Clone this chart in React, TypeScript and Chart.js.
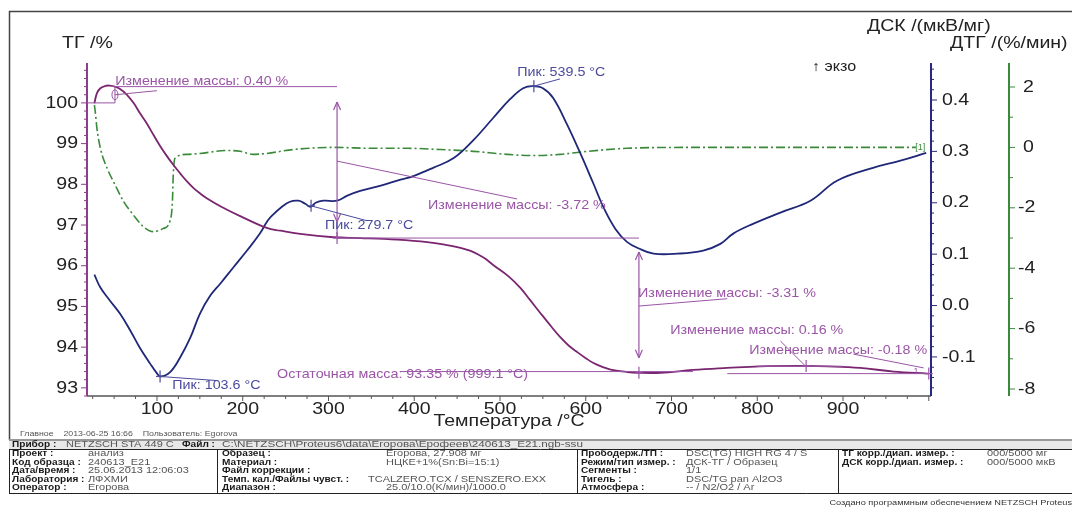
import React, { useEffect, useRef } from "react";
import { Chart, registerables } from "chart.js";

Chart.register(...registerables);

// ---------------- DATA ----------------
const tgTemp = [27, 30, 34, 40, 45, 51, 57, 65, 73, 80, 88, 96, 104, 112, 119, 127, 135, 143, 150, 158, 175, 197, 228, 244, 267, 306, 337, 380, 415, 440, 454, 465, 475, 483, 492, 510, 524, 535, 547, 560, 570, 580, 590, 600, 609, 620, 629, 648, 662, 687, 725, 765, 803, 857, 882, 920, 959, 999];
const tgMass = [99.99, 100.24, 100.36, 100.42, 100.425, 100.4, 100.34, 100.2, 99.99, 99.75, 99.5, 99.21, 98.93, 98.68, 98.48, 98.27, 98.07, 97.9, 97.78, 97.66, 97.45, 97.22, 96.93, 96.86, 96.78, 96.7, 96.68, 96.64, 96.58, 96.5, 96.44, 96.37, 96.27, 96.17, 96.02, 95.74, 95.45, 95.16, 94.84, 94.5, 94.25, 94.04, 93.88, 93.73, 93.61, 93.51, 93.45, 93.39, 93.37, 93.37, 93.44, 93.49, 93.53, 93.54, 93.53, 93.49, 93.4, 93.35];

const dscTemp = [27, 34, 45, 57, 69, 80, 92, 100, 104, 115, 127, 139, 150, 162, 174, 189, 205, 220, 229, 236, 244, 255, 265, 273, 279, 285, 294, 310, 322, 337, 360, 384, 399, 422, 446, 469, 492, 512, 527, 538, 550, 562, 578, 594, 609, 621, 635, 648, 662, 679, 707, 737, 757, 772, 795, 827, 862, 893, 935, 967, 997];
const dscSignal = [0.06, 0.035, 0.01, -0.016, -0.049, -0.082, -0.113, -0.132, -0.138, -0.13, -0.101, -0.062, -0.016, 0.019, 0.043, 0.074, 0.107, 0.14, 0.165, 0.178, 0.19, 0.202, 0.204, 0.198, 0.192, 0.2, 0.204, 0.204, 0.214, 0.223, 0.233, 0.245, 0.252, 0.268, 0.287, 0.322, 0.365, 0.402, 0.423, 0.427, 0.423, 0.404, 0.353, 0.295, 0.237, 0.19, 0.148, 0.124, 0.111, 0.101, 0.101, 0.107, 0.12, 0.14, 0.159, 0.181, 0.204, 0.243, 0.268, 0.282, 0.297];

const dtgTemp = [27, 28, 30, 34, 42, 51, 61, 72, 84, 96, 107, 115, 118, 119, 121, 135, 150, 182, 197, 212, 228, 259, 306, 352, 392, 430, 469, 508, 539, 570, 602, 648, 725, 850, 985];
const dtgRate = [1.4, 1.19, 0.63, -0.03, -0.7, -1.23, -1.79, -2.22, -2.62, -2.79, -2.69, -2.45, -1.79, -0.9, -0.36, -0.23, -0.2, -0.1, -0.13, -0.23, -0.2, -0.07, 0, -0.03, -0.03, -0.07, -0.13, -0.23, -0.27, -0.23, -0.13, -0.03, 0, 0, 0];

const xTicks = [100, 200, 300, 400, 500, 600, 700, 800, 900];
const tgTicks = [93, 94, 95, 96, 97, 98, 99, 100];
const dscTicks = [-0.1, 0.0, 0.1, 0.2, 0.3, 0.4];
const dtgTicks = [-8, -6, -4, -2, 0, 2];

const peakTemps = [103.6, 279.7, 539.5];
const massChanges = [0.4, -3.72, -3.31, 0.16, -0.18];
const residualMass = 93.35;
const residualTemp = 999.1;

// ---------------- STYLE ----------------
const F = '"Liberation Sans", Arial, sans-serif';
const SX = 1.15;
const C_TG = "#7a256f";
const C_DSC = "#1f2878";
const C_DTG = "#3a8a3a";
const C_ANN = "#9a55a6";
const C_PEAK = "#4a4a9e";

function drawText(ctx: CanvasRenderingContext2D, s: string, x: number, y: number, font: string, color: string, align = "left", sx = SX) {
  ctx.save();
  ctx.font = font;
  ctx.fillStyle = color;
  ctx.textBaseline = "middle";
  ctx.textAlign = "left";
  const w = ctx.measureText(s).width * sx;
  const x0 = align === "left" ? x : align === "right" ? x - w : x - w / 2;
  ctx.translate(x0, y);
  ctx.scale(sx, 1);
  ctx.fillText(s, 0, 0);
  ctx.restore();
}

function seg(ctx: CanvasRenderingContext2D, x1: number, y1: number, x2: number, y2: number, color: string, w = 1) {
  ctx.save();
  ctx.strokeStyle = color;
  ctx.lineWidth = w;
  ctx.beginPath();
  ctx.moveTo(x1, y1);
  ctx.lineTo(x2, y2);
  ctx.stroke();
  ctx.restore();
}

function plus(ctx: CanvasRenderingContext2D, x: number, y: number, color: string) {
  seg(ctx, x - 4, y, x + 4, y, color, 1.2);
  seg(ctx, x, y - 6, x, y + 6, color, 1.2);
}

function head(ctx: CanvasRenderingContext2D, x: number, y: number, dir: number, color: string) {
  seg(ctx, x - 3.5, y + dir * 8, x, y, color, 1.2);
  seg(ctx, x + 3.5, y + dir * 8, x, y, color, 1.2);
}

const fmt = (v: number) => (v > 0 ? v.toFixed(2) : "-" + Math.abs(v).toFixed(2));

const drawPlugin = {
  id: "netzsch",
  beforeDraw(chart: any) {
    const ctx = chart.ctx;
    ctx.save();
    ctx.fillStyle = "#ffffff";
    ctx.fillRect(0, 0, chart.width, chart.height);
    ctx.restore();
  },
  afterDraw(chart: any) {
    const ctx: CanvasRenderingContext2D = chart.ctx;
    const { x, yTG, yDSC, yDTG } = chart.scales;
    const ca = chart.chartArea;
    const px = (t: number) => x.getPixelForValue(t);
    const pT = (v: number) => yTG.getPixelForValue(v);
    const pD = (v: number) => yDSC.getPixelForValue(v);
    const pG = (v: number) => yDTG.getPixelForValue(v);
    const tickFont = `17px ${F}`;

    // frame
    ctx.save();
    ctx.strokeStyle = "#444";
    ctx.lineWidth = 1.5;
    ctx.beginPath();
    ctx.moveTo(9.5, 440);
    ctx.lineTo(9.5, 11.5);
    ctx.lineTo(1072, 11.5);
    ctx.stroke();
    ctx.restore();

    // X axis
    seg(ctx, ca.left, ca.bottom, ca.right, ca.bottom, "#555", 1.5);
    for (let v = 25; v <= 1000; v += 25) {
      const p = px(v);
      if (p < ca.left || p > ca.right) continue;
      seg(ctx, p, ca.bottom, p, ca.bottom + (v % 100 === 0 ? 5 : 3), "#555", 1);
    }
    xTicks.forEach((v) => drawText(ctx, String(v), px(v), ca.bottom + 13, tickFont, "#222", "center"));
    drawText(ctx, "Температура /°C", (ca.left + ca.right) / 2, ca.bottom + 25, tickFont, "#222", "center");

    // TG axis (left)
    seg(ctx, ca.left, ca.top, ca.left, ca.bottom, "#8e3c8e", 2);
    for (let k = 0; k <= 41; k++) {
      const v = 92.8 + k * 0.2;
      if (v > yTG.max) break;
      const major = Math.abs(v - Math.round(v)) < 1e-6;
      const p = pT(v);
      seg(ctx, ca.left - (major ? 6 : 3), p, ca.left, p, "#8e3c8e", 1);
    }
    tgTicks.forEach((v) => drawText(ctx, String(v), ca.left - 9, pT(v), tickFont, "#222", "right"));
    drawText(ctx, "ТГ /%", 62, 43, tickFont, "#222");

    // DSC axis (right)
    seg(ctx, ca.right, ca.top, ca.right, ca.bottom, "#27287f", 2);
    for (let k = -8; k <= 23; k++) {
      const v = k * 0.02;
      if (v < yDSC.min || v > yDSC.max) continue;
      const p = pD(v);
      seg(ctx, ca.right, p, ca.right + (k % 5 === 0 ? 6 : 3), p, "#27287f", 1);
    }
    dscTicks.forEach((v) => drawText(ctx, v.toFixed(1), ca.right + 11, pD(v), tickFont, "#222"));
    drawText(ctx, "ДСК /(мкВ/мг)", 867, 26, tickFont, "#222");

    // DTG axis (offset right)
    const gx = ca.right + 78;
    seg(ctx, gx, ca.top, gx, ca.bottom, "#3a8a3a", 2);
    for (let v = -8; v <= 2; v++) {
      const p = pG(v);
      seg(ctx, gx, p, gx + (v % 2 === 0 ? 6 : 4), p, "#3a8a3a", 1);
    }
    dtgTicks.forEach((v) => drawText(ctx, String(v), v < 0 ? gx + 9 : gx + 14, pG(v), tickFont, "#222"));
    drawText(ctx, "ДТГ /(%/мин)", 950, 43, tickFont, "#222");

    drawText(ctx, "↑ экзо", 812, 67, `14px ${F}`, "#222");

    // ---- annotations ----
    const annFont = `13px ${F}`;
    // 0.40 %
    seg(ctx, ca.left, pT(100), px(51), pT(100), C_ANN, 1);
    seg(ctx, px(49), pT(100.4), px(310), pT(100.4), C_ANN, 1);
    seg(ctx, px(51), pT(100), px(51), pT(100.4), C_ANN, 1);
    ctx.save();
    ctx.strokeStyle = C_ANN;
    ctx.beginPath();
    ctx.ellipse(px(51), pT(100.2), 3, 5, 0, 0, Math.PI * 2);
    ctx.stroke();
    ctx.restore();
    seg(ctx, px(51), pT(100.2), px(100), pT(100.3), C_ANN, 1);
    drawText(ctx, `Изменение массы: ${fmt(massChanges[0])} %`, px(51.3), pT(100.52), annFont, C_ANN, "left", 1.1);

    // -3.72 %
    const aX = px(310);
    seg(ctx, aX, pT(100.02), aX, pT(96.68), C_ANN, 1.2);
    head(ctx, aX, pT(100.02), 1, C_ANN);
    head(ctx, aX, pT(97.08), -1, C_ANN);
    plus(ctx, aX, pT(96.68), C_ANN);
    seg(ctx, aX, pT(98.57), px(520), pT(97.64), C_ANN, 1);
    seg(ctx, aX, pT(96.68), px(662), pT(96.68), C_ANN, 1);
    drawText(ctx, `Изменение массы: ${fmt(massChanges[1])} %`, px(416), pT(97.49), annFont, C_ANN, "left", 1.1);

    // -3.31 %
    const bX = px(662);
    seg(ctx, bX, pT(96.34), bX, pT(93.74), C_ANN, 1.2);
    head(ctx, bX, pT(96.34), 1, C_ANN);
    head(ctx, bX, pT(93.74), -1, C_ANN);
    plus(ctx, bX, pT(93.37), C_ANN);
    seg(ctx, bX, pT(95.01), px(765), pT(95.19), C_ANN, 1);
    drawText(ctx, `Изменение массы: ${fmt(massChanges[2])} %`, px(661), pT(95.33), annFont, C_ANN, "left", 1.1);

    // residual & baselines
    seg(ctx, px(384), pT(93.4), px(725), pT(93.4), C_ANN, 1);
    seg(ctx, px(765), pT(93.35), px(1000), pT(93.35), C_ANN, 1);
    seg(ctx, px(800), pT(93.53), px(900), pT(93.53), C_ANN, 1);
    drawText(ctx, `Остаточная масса: ${residualMass.toFixed(2)} % (${residualTemp.toFixed(1)} °C)`, px(240), pT(93.34), annFont, C_ANN, "left", 1.1);

    // 0.16 %
    plus(ctx, px(857), pT(93.54), C_ANN);
    seg(ctx, px(827), pT(94.15), px(856), pT(93.54), C_ANN, 1);
    drawText(ctx, `Изменение массы: ${fmt(massChanges[3])} %`, px(698.5), pT(94.4), annFont, C_ANN, "left", 1.1);

    // -0.18 %
    plus(ctx, px(1000), pT(93.35), C_ANN);
    seg(ctx, px(912), pT(93.83), px(994), pT(93.49), C_ANN, 1);
    drawText(ctx, `Изменение массы: ${fmt(massChanges[4])} %`, px(790.7), pT(93.93), annFont, C_ANN, "left", 1.1);
    drawText(ctx, "1", px(985), pT(93.4), `9px ${F}`, C_ANN, "center", 1);

    // DSC peaks
    plus(ctx, px(peakTemps[2]), pD(0.427), C_PEAK);
    seg(ctx, px(peakTemps[2]), pD(0.427), px(570), pD(0.441), C_PEAK, 1);
    drawText(ctx, `Пик: ${peakTemps[2]} °C`, px(520), pT(100.74), annFont, C_PEAK, "left", 1.1);

    plus(ctx, px(peakTemps[0]), pD(-0.138), C_PEAK);
    seg(ctx, px(peakTemps[0]), pD(-0.138), px(170), pD(-0.146), C_PEAK, 1);
    drawText(ctx, `Пик: ${peakTemps[0]} °C`, px(117.8), pT(93.07), annFont, C_PEAK, "left", 1.1);

    plus(ctx, px(peakTemps[1]), pD(0.194), C_PEAK);
    seg(ctx, px(peakTemps[1]), pD(0.194), px(345), pD(0.165), C_PEAK, 1);
    drawText(ctx, `Пик: ${peakTemps[1]} °C`, px(296), pT(97.0), annFont, C_PEAK, "left", 1.1);

    // DTG end marker
    drawText(ctx, "[1]", px(990), pG(0), `9px ${F}`, C_DTG, "center", 1);

    // ---- footer ----
    drawText(ctx, "Главное    2013-06-25 16:66    Пользователь: Egorova", 20, 434, `8px ${F}`, "#555", "left", 1.1);

    const top = 440;
    const r0 = 449.5;
    const rb = 493.5;
    ctx.save();
    ctx.fillStyle = "#e8e8e8";
    ctx.fillRect(9, top, 1063, r0 - top);
    ctx.restore();
    seg(ctx, 9, top, 1072, top, "#999", 2);
    seg(ctx, 9, r0, 1072, r0, "#222", 1);
    seg(ctx, 9, rb, 1072, rb, "#222", 1);
    [9.5, 217.5, 577.5, 838.5].forEach((cx) => seg(ctx, cx, r0, cx, rb, "#222", 1));

    const tf = (b: boolean) => `${b ? "bold " : ""}9px ${F}`;
    const LS = 1.12;
    const VS = 1.22;
    const lab = "#1a1a1a";
    const val = "#555";
    const ry = [454, 462.5, 471, 479.5, 488];
    drawText(ctx, "Прибор :", 12, 445, tf(true), lab, "left", LS);
    drawText(ctx, "NETZSCH STA 449 C", 66, 445, tf(false), val, "left", VS);
    drawText(ctx, "Файл :", 182, 445, tf(true), lab, "left", LS);
    drawText(ctx, "C:\\NETZSCH\\Proteus6\\data\\Егорова\\Ерофеев\\240613_E21.ngb-ssu", 222, 445, tf(false), val, "left", 1.3);

    const c1l = ["Проект :", "Код образца :", "Дата/время :", "Лаборатория :", "Оператор :"];
    const c1v = ["анализ", "240613_E21", "25.06.2013 12:06:03", "ЛФХМИ", "Егорова"];
    const c2l = ["Образец :", "Материал :", "Файл коррекции :", "Темп. кал./Файлы чувст. :", "Диапазон :"];
    const c2v = ["Егорова, 27.908 мг", "НЦКЕ+1%(Sn:Bi=15:1)", "", "TCALZERO.TCX / SENSZERO.EXX", "25.0/10.0(K/мин)/1000.0"];
    const c3l = ["Прободерж./ТП :", "Режим/тип измер. :", "Сегменты :", "Тигель :", "Атмосфера :"];
    const c3v = ["DSC(TG) HIGH RG 4 / S", "ДСК-ТГ / Образец", "1/1", "DSC/TG pan Al2O3", "-- / N2/O2 / Ar"];
    const c4l = ["ТГ корр./диап. измер. :", "ДСК корр./диап. измер. :"];
    const c4v = ["000/5000 мг", "000/5000 мкВ"];
    ry.forEach((y, i) => {
      drawText(ctx, c1l[i], 12, y, tf(true), lab, "left", LS);
      drawText(ctx, c1v[i], 88, y, tf(false), val, "left", VS);
      drawText(ctx, c2l[i], 222, y, tf(true), lab, "left", LS);
      drawText(ctx, c2v[i], i === 3 ? 368 : 386, y, tf(false), val, "left", VS);
      drawText(ctx, c3l[i], 581, y, tf(true), lab, "left", LS);
      drawText(ctx, c3v[i], 686, y, tf(false), val, "left", VS);
      if (i < 2) {
        drawText(ctx, c4l[i], 842, y, tf(true), lab, "left", LS);
        drawText(ctx, c4v[i], 987, y, tf(false), val, "left", VS);
      }
    });
    drawText(ctx, "Создано программным обеспечением NETZSCH Proteus", 1072, 503, `8px ${F}`, "#333", "right", 1.15);
  },
};

export default function App() {
  const ref = useRef<HTMLCanvasElement | null>(null);
  useEffect(() => {
    if (!ref.current) return;
    const chart = new Chart(ref.current, {
      type: "line",
      data: {
        datasets: [
          {
            label: "ТГ",
            data: tgTemp.map((t, i) => ({ x: t, y: tgMass[i] })),
            yAxisID: "yTG",
            borderColor: C_TG,
            borderWidth: 1.8,
            pointRadius: 0,
            tension: 0.4,
          },
          {
            label: "ДСК",
            data: dscTemp.map((t, i) => ({ x: t, y: dscSignal[i] })),
            yAxisID: "yDSC",
            borderColor: C_DSC,
            borderWidth: 1.8,
            pointRadius: 0,
            tension: 0.4,
          },
          {
            label: "ДТГ",
            data: dtgTemp.map((t, i) => ({ x: t, y: dtgRate[i] })),
            yAxisID: "yDTG",
            borderColor: C_DTG,
            borderWidth: 1.6,
            borderDash: [9, 3, 2, 3],
            pointRadius: 0,
            cubicInterpolationMode: "monotone",
          },
        ],
      },
      options: {
        responsive: false,
        animation: false,
        layout: { padding: { left: 87, top: 63, right: 141, bottom: 111 } },
        plugins: { legend: { display: false }, tooltip: { enabled: false } },
        scales: {
          x: { type: "linear", min: 18.4, max: 1002.6, display: false },
          yTG: { type: "linear", min: 92.8, max: 100.98, display: false },
          yDSC: { type: "linear", min: -0.176, max: 0.472, display: false },
          yDTG: { type: "linear", min: -8.232, max: 2.795, display: false },
        },
      },
      plugins: [drawPlugin],
    } as any);
    return () => chart.destroy();
  }, []);
  return (
    <div style={{ position: "absolute", left: 0, top: 0, width: 1072, height: 507 }}>
      <canvas ref={ref} width={1072} height={507} style={{ width: 1072, height: 507, display: "block" }} />
    </div>
  );
}
